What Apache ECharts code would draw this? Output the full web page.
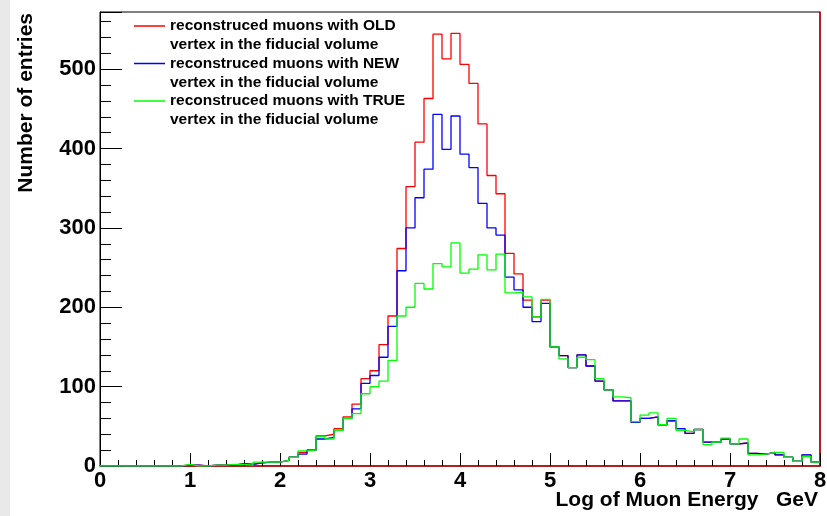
<!DOCTYPE html>
<html>
<head>
<meta charset="utf-8">
<script src="https://cdn.jsdelivr.net/npm/echarts@6/dist/echarts.min.js"></script>
<style>
  html, body { margin: 0; padding: 0; background: #fff; }
  #main { width: 827px; height: 516px; }
</style>
</head>
<body>
<div id="main"></div>
<script>
// histogram binning: 80 bins of 0.1 between 0 and 8
const xMin = 0;
const xMax = 8;
const binWidth = 0.1;

// entries per bin
const oldVertex = [
  0, 0, 0, 0, 0, 0, 0, 0, 0, 1,
  1, 0, 1, 1, 1, 3, 2, 4, 5, 5,
  7, 11, 17, 20, 38, 40, 47, 62, 78, 110,
  120, 153, 189, 274, 352, 408, 463, 544, 513, 545,
  506, 482, 431, 366, 343, 268, 242, 209, 188, 209,
  150, 139, 124, 140, 126, 107, 96, 82, 82, 55,
  60, 62, 52, 57, 47, 41, 46, 30, 30, 34,
  28, 29, 16, 15, 17, 14, 11, 6, 14, 5
];
const newVertex = [
  0, 0, 0, 0, 0, 0, 0, 0, 0, 1,
  1, 0, 1, 1, 1, 3, 2, 4, 5, 5,
  7, 11, 15, 20, 34, 36, 45, 60, 72, 104,
  114, 137, 176, 246, 300, 338, 374, 443, 399, 441,
  393, 376, 331, 300, 291, 238, 222, 200, 182, 205,
  150, 139, 124, 140, 126, 107, 96, 82, 82, 55,
  60, 62, 52, 57, 47, 41, 46, 30, 30, 34,
  28, 29, 16, 15, 17, 14, 11, 6, 14, 5
];
const trueVertex = [
  0, 0, 0, 0, 0, 0, 0, 0, 0, 2,
  0, 0, 1, 1, 2, 2, 1, 5, 5, 5,
  7, 11, 19, 20, 37, 34, 45, 60, 66, 91,
  100, 107, 133, 189, 200, 230, 223, 255, 251, 281,
  243, 248, 266, 247, 267, 218, 219, 213, 188, 210,
  150, 135, 124, 137, 134, 110, 96, 87, 86, 56,
  64, 67, 52, 60, 45, 43, 46, 27, 30, 35,
  28, 34, 14, 15, 17, 17, 11, 6, 12, 5
];

const legendNames = [
  'reconstruced muons with OLD',
  'reconstruced muons with NEW',
  'reconstruced muons with TRUE'
];
const legendSecondLine = 'vertex in the fiducial volume';

const font = 'Liberation Sans, Arial, Helvetica, sans-serif';

// bin contents -> step points at the lower bin edges (plus closing point)
function toSteps(values) {
  let pts = values.map((v, i) => [xMin + i * binWidth, v]);
  pts.push([xMax, values[values.length - 1]]);
  return pts;
}

function histSeries(name, values, color) {
  return {
    name: name,
    type: 'line',
    step: 'end',
    symbol: 'none',
    data: toSteps(values),
    lineStyle: { color: color, width: 1.3 },
    itemStyle: { color: color }
  };
}

let myChart = echarts.init(document.getElementById('main'));
let option = {
  animation: false,
  backgroundColor: '#fff',
  grid: {
    left: 100, right: 7, top: 12, bottom: 50,
    outerBoundsMode: 'none',
    containLabel: false,
    show: true, borderColor: '#000', borderWidth: 1, backgroundColor: '#fff'
  },
  legend: {
    orient: 'vertical',
    left: 134,
    top: 16.5,
    padding: 0,
    icon: 'rect',
    itemWidth: 31,
    itemHeight: 1.5,
    itemGap: 18.5,
    data: legendNames,
    textStyle: { fontFamily: font, fontWeight: 'bold', fontSize: 15.5, lineHeight: 19, color: '#000' }
  },
  graphic: [
    { type: 'rect', left: 0, top: 0, shape: { width: 10, height: 516 }, style: { fill: '#e9e9e9' }, silent: true },
    { type: 'text', x: 170, y: 45, style: { text: legendSecondLine, fontFamily: font, fontWeight: 'bold', fontSize: 15.5, fill: '#000', verticalAlign: 'middle' } },
    { type: 'text', x: 170, y: 82.5, style: { text: legendSecondLine, fontFamily: font, fontWeight: 'bold', fontSize: 15.5, fill: '#000', verticalAlign: 'middle' } },
    { type: 'text', x: 170, y: 120, style: { text: legendSecondLine, fontFamily: font, fontWeight: 'bold', fontSize: 15.5, fill: '#000', verticalAlign: 'middle' } },
    // axis titles
    { type: 'text', x: 26, y: 13, rotation: Math.PI / 2,
      style: { text: 'Number of entries', fontFamily: font, fontWeight: 'bold', fontSize: 21, fill: '#000', align: 'right', verticalAlign: 'middle' } },
    { type: 'text', x: 818, y: 500,
      style: { text: 'Log of Muon Energy   GeV', fontFamily: font, fontWeight: 'bold', fontSize: 21, fill: '#000', align: 'right', verticalAlign: 'middle' } }
  ],
  xAxis: {
    type: 'value',
    min: xMin,
    max: xMax,
    interval: 1,
    axisLine: { show: true, lineStyle: { color: '#c00000', width: 1.5 } },
    axisTick: { inside: true, length: 13, lineStyle: { color: '#000' } },
    minorTick: { show: true, splitNumber: 5, length: 6, lineStyle: { color: '#000' } },
    splitLine: { show: false },
    axisLabel: { fontFamily: font, fontWeight: 'bold', fontSize: 22, color: '#000', margin: 4 }
  },
  yAxis: [
    {
      type: 'value',
      min: 0,
      max: 572,
      interval: 100,
      position: 'left',
      axisLine: { show: true, lineStyle: { color: '#000' } },
      axisTick: { inside: true, length: 22, lineStyle: { color: '#000' } },
      splitLine: { show: false },
      axisLabel: {
        fontFamily: font, fontWeight: 'bold', fontSize: 22, color: '#000', margin: 4,
        formatter: function (v) { return v % 100 === 0 ? String(v) : ''; }
      }
    },
    {
      // minor ticks every 20 entries
      type: 'value',
      min: 0,
      max: 572,
      interval: 20,
      position: 'left',
      axisLine: { show: false },
      axisTick: { inside: true, length: 11, lineStyle: { color: '#000' } },
      splitLine: { show: false },
      axisLabel: { show: false }
    },
    {
      type: 'value',
      min: 0,
      max: 572,
      position: 'right',
      axisLine: { show: true, lineStyle: { color: '#c00000', width: 1.5 } },
      axisTick: { show: false },
      splitLine: { show: false },
      axisLabel: { show: false }
    }
  ],
  series: [
    histSeries(legendNames[0], oldVertex, '#ff0000'),
    histSeries(legendNames[1], newVertex, '#0000ff'),
    histSeries(legendNames[2], trueVertex, '#00ff00')
  ]
};
myChart.setOption(option);
</script>
</body>
</html>
